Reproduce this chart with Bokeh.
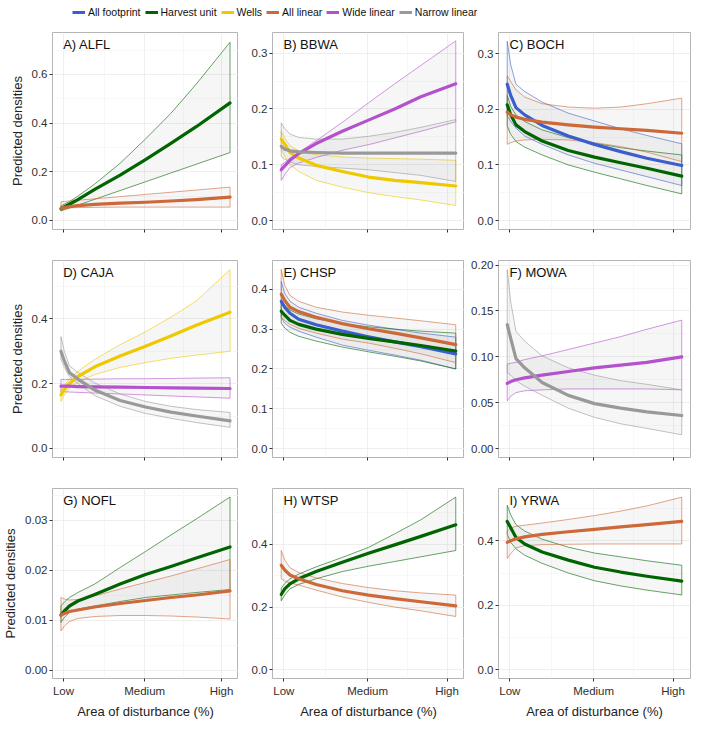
from bokeh.plotting import figure
from bokeh.models import Range1d, FixedTicker, NumeralTickFormatter, Label, Legend, LegendItem
from bokeh.layouts import gridplot, column
from bokeh.embed import file_html
from bokeh.resources import INLINE

FONT = "Liberation Sans"

# ---------------- data ----------------
X_PTS = [0, 2, 5, 10, 20, 35, 50, 65, 80, 100]
X_TICKS = [1.5, 49.5, 95]
X_TICK_LABELS = ["Low", "Medium", "High"]
X_MINOR = [25.5, 72.25]

SERIES_NAMES = ["All footprint", "Harvest unit", "Wells", "All linear", "Wide linear", "Narrow linear"]
SERIES_COLORS = ["#3A5FCD", "#006400", "#EEC900", "#CD6839", "#B452CD", "#999999"]

# A) ALFL
ALFL_harvest_mean = [0.048, 0.0555, 0.0668, 0.0859, 0.1274, 0.1862, 0.25, 0.3167, 0.3852, 0.483]
ALFL_harvest_lo = [0.039, 0.044, 0.051, 0.063, 0.087, 0.123, 0.159, 0.195, 0.231, 0.279]
ALFL_harvest_hi = [0.06, 0.067, 0.078, 0.1, 0.15, 0.235, 0.335, 0.44, 0.56, 0.732]
ALFL_linear_mean = [0.05, 0.053, 0.057, 0.061, 0.066, 0.071, 0.075, 0.08, 0.086, 0.096]
ALFL_linear_lo = [0.05, 0.051, 0.052, 0.053, 0.054, 0.055, 0.055, 0.055, 0.055, 0.055]
ALFL_linear_hi = [0.077, 0.078, 0.08, 0.083, 0.089, 0.098, 0.107, 0.116, 0.125, 0.137]

# B) BBWA
BBWA_wells_mean = [0.146, 0.137, 0.122, 0.112, 0.099, 0.088, 0.078, 0.072, 0.068, 0.062]
BBWA_wells_lo = [0.127, 0.116, 0.1, 0.088, 0.072, 0.06, 0.05, 0.043, 0.037, 0.027]
BBWA_wells_hi = [0.16, 0.148, 0.134, 0.125, 0.118, 0.114, 0.112, 0.111, 0.11, 0.108]
BBWA_wide_mean = [0.091, 0.098, 0.108, 0.12, 0.138, 0.16, 0.18, 0.2, 0.222, 0.245]
BBWA_wide_lo = [0.072, 0.082, 0.095, 0.103, 0.113, 0.126, 0.136, 0.148, 0.16, 0.177]
BBWA_wide_hi = [0.1, 0.104, 0.112, 0.122, 0.143, 0.176, 0.211, 0.245, 0.278, 0.322]
BBWA_narrow_mean = [0.133, 0.128, 0.125, 0.123, 0.122, 0.121, 0.121, 0.121, 0.121, 0.121]
BBWA_narrow_lo = [0.115, 0.11, 0.105, 0.1, 0.097, 0.094, 0.091, 0.086, 0.081, 0.07]
BBWA_narrow_hi = [0.175, 0.165, 0.155, 0.149, 0.146, 0.146, 0.151, 0.158, 0.167, 0.181]

# C) BOCH
BOCH_foot_mean = [0.245, 0.225, 0.203, 0.19, 0.171, 0.152, 0.137, 0.124, 0.112, 0.099]
BOCH_foot_lo = [0.188, 0.178, 0.166, 0.152, 0.137, 0.118, 0.103, 0.091, 0.079, 0.063]
BOCH_foot_hi = [0.322, 0.28, 0.245, 0.232, 0.213, 0.193, 0.179, 0.165, 0.153, 0.138]
BOCH_harvest_mean = [0.208, 0.19, 0.172, 0.16, 0.143, 0.126, 0.114, 0.104, 0.094, 0.08]
BOCH_harvest_lo = [0.17, 0.155, 0.142, 0.132, 0.118, 0.1, 0.087, 0.075, 0.063, 0.048]
BOCH_harvest_hi = [0.225, 0.205, 0.19, 0.178, 0.163, 0.149, 0.139, 0.131, 0.125, 0.118]
BOCH_linear_mean = [0.195, 0.19, 0.186, 0.182, 0.177, 0.172, 0.168, 0.165, 0.162, 0.157]
BOCH_linear_lo = [0.137, 0.14, 0.143, 0.145, 0.146, 0.145, 0.14, 0.133, 0.123, 0.106]
BOCH_linear_hi = [0.26, 0.25, 0.235, 0.222, 0.21, 0.204, 0.202, 0.204, 0.21, 0.22]

# D) CAJA
CAJA_wells_mean = [0.165, 0.182, 0.2, 0.222, 0.252, 0.285, 0.315, 0.347, 0.38, 0.42]
CAJA_wells_lo = [0.145, 0.165, 0.185, 0.205, 0.228, 0.25, 0.265, 0.278, 0.288, 0.3]
CAJA_wells_hi = [0.18, 0.195, 0.215, 0.238, 0.275, 0.32, 0.36, 0.405, 0.455, 0.552]
CAJA_wide_mean = [0.192, 0.192, 0.192, 0.191, 0.19, 0.189, 0.188, 0.187, 0.186, 0.185]
CAJA_wide_lo = [0.175, 0.175, 0.174, 0.173, 0.171, 0.168, 0.165, 0.162, 0.159, 0.155]
CAJA_wide_hi = [0.213, 0.213, 0.213, 0.213, 0.214, 0.215, 0.215, 0.216, 0.217, 0.218]
CAJA_narrow_mean = [0.3, 0.27, 0.234, 0.214, 0.18, 0.148, 0.128, 0.112, 0.1, 0.085]
CAJA_narrow_lo = [0.275, 0.25, 0.222, 0.2, 0.163, 0.13, 0.108, 0.093, 0.08, 0.065]
CAJA_narrow_hi = [0.345, 0.3, 0.255, 0.235, 0.202, 0.168, 0.145, 0.13, 0.12, 0.111]

# E) CHSP
CHSP_foot_mean = [0.37, 0.355, 0.34, 0.325, 0.311, 0.295, 0.281, 0.268, 0.256, 0.238]
CHSP_foot_lo = [0.33, 0.315, 0.305, 0.295, 0.28, 0.26, 0.247, 0.235, 0.222, 0.2]
CHSP_foot_hi = [0.42, 0.39, 0.37, 0.355, 0.34, 0.322, 0.31, 0.3, 0.29, 0.28]
CHSP_harvest_mean = [0.345, 0.335, 0.322, 0.312, 0.3, 0.287, 0.277, 0.268, 0.259, 0.245]
CHSP_harvest_lo = [0.315, 0.303, 0.292, 0.282, 0.27, 0.255, 0.243, 0.232, 0.22, 0.2]
CHSP_harvest_hi = [0.37, 0.36, 0.348, 0.338, 0.326, 0.314, 0.306, 0.3, 0.295, 0.29]
CHSP_linear_mean = [0.388, 0.372, 0.355, 0.344, 0.33, 0.314, 0.301, 0.29, 0.278, 0.261]
CHSP_linear_lo = [0.33, 0.322, 0.312, 0.302, 0.29, 0.275, 0.265, 0.252, 0.238, 0.216]
CHSP_linear_hi = [0.45, 0.41, 0.385, 0.37, 0.355, 0.343, 0.335, 0.328, 0.321, 0.311]

# F) MOWA
MOWA_wide_mean = [0.071, 0.073, 0.075, 0.077, 0.08, 0.084, 0.088, 0.091, 0.094, 0.1]
MOWA_wide_lo = [0.052, 0.057, 0.061, 0.063, 0.064, 0.065, 0.065, 0.065, 0.065, 0.064]
MOWA_wide_hi = [0.092, 0.093, 0.094, 0.097, 0.101, 0.108, 0.115, 0.122, 0.13, 0.14]
MOWA_narrow_mean = [0.135, 0.12, 0.098, 0.088, 0.072, 0.058, 0.049, 0.044, 0.04, 0.036]
MOWA_narrow_lo = [0.083, 0.08, 0.074, 0.068, 0.058, 0.044, 0.034, 0.027, 0.022, 0.015]
MOWA_narrow_hi = [0.195, 0.16, 0.128, 0.117, 0.101, 0.088, 0.08, 0.074, 0.07, 0.064]

# G) NOFL
NOFL_harvest_mean = [0.011, 0.0118, 0.0128, 0.0138, 0.0151, 0.0172, 0.0191, 0.0207, 0.0224, 0.0246]
NOFL_harvest_lo = [0.0095, 0.0105, 0.0115, 0.0122, 0.0128, 0.0137, 0.0145, 0.015, 0.0155, 0.0161]
NOFL_harvest_hi = [0.0128, 0.0136, 0.0145, 0.0155, 0.0172, 0.0205, 0.0237, 0.027, 0.0302, 0.0346]
NOFL_linear_mean = [0.011, 0.0113, 0.0117, 0.012, 0.0126, 0.0133, 0.0139, 0.0145, 0.015, 0.0158]
NOFL_linear_lo = [0.0078, 0.0088, 0.0097, 0.0103, 0.0107, 0.0109, 0.0109, 0.0108, 0.0106, 0.0102]
NOFL_linear_hi = [0.0145, 0.0142, 0.014, 0.0141, 0.0148, 0.0162, 0.0175, 0.0188, 0.0202, 0.0221]

# H) WTSP
WTSP_harvest_mean = [0.24, 0.258, 0.274, 0.29, 0.313, 0.343, 0.371, 0.398, 0.425, 0.462]
WTSP_harvest_lo = [0.22, 0.238, 0.258, 0.272, 0.29, 0.313, 0.33, 0.345, 0.36, 0.38]
WTSP_harvest_hi = [0.26, 0.275, 0.29, 0.305, 0.328, 0.358, 0.39, 0.433, 0.478, 0.55]
WTSP_linear_mean = [0.333, 0.318, 0.302, 0.29, 0.272, 0.252, 0.238, 0.227, 0.217, 0.204]
WTSP_linear_lo = [0.29, 0.283, 0.277, 0.27, 0.254, 0.232, 0.215, 0.2, 0.188, 0.17]
WTSP_linear_hi = [0.38, 0.35, 0.325, 0.31, 0.293, 0.275, 0.262, 0.252, 0.245, 0.238]

# I) YRWA
YRWA_harvest_mean = [0.46, 0.44, 0.41, 0.39, 0.365, 0.34, 0.318, 0.303, 0.29, 0.275]
YRWA_harvest_lo = [0.42, 0.395, 0.375, 0.355, 0.33, 0.3, 0.276, 0.26, 0.247, 0.232]
YRWA_harvest_hi = [0.51, 0.48, 0.45, 0.43, 0.405, 0.38, 0.362, 0.35, 0.338, 0.324]
YRWA_linear_mean = [0.395, 0.4, 0.406, 0.412, 0.42, 0.428, 0.435, 0.443, 0.45, 0.46]
YRWA_linear_lo = [0.345, 0.36, 0.378, 0.385, 0.388, 0.389, 0.39, 0.39, 0.39, 0.39]
YRWA_linear_hi = [0.43, 0.44, 0.445, 0.448, 0.455, 0.466, 0.478, 0.492, 0.508, 0.535]

PANEL_TITLES = ["A) ALFL", "B) BBWA", "C) BOCH", "D) CAJA", "E) CHSP", "F) MOWA",
                "G) NOFL", "H) WTSP", "I) YRWA"]
Y_LIMITS = [(-0.037, 0.772), (-0.016, 0.337), (-0.016, 0.338),
            (-0.028, 0.58), (-0.0225, 0.4725), (-0.00975, 0.205),
            (-0.0017, 0.0363), (-0.0275, 0.5775), (-0.027, 0.562)]
Y_TICKS = [[0, 0.2, 0.4, 0.6], [0, 0.1, 0.2, 0.3], [0, 0.1, 0.2, 0.3],
           [0, 0.2, 0.4], [0, 0.1, 0.2, 0.3, 0.4], [0, 0.05, 0.10, 0.15, 0.20],
           [0, 0.01, 0.02, 0.03], [0, 0.2, 0.4], [0, 0.2, 0.4]]
Y_MINOR = [[0.1, 0.3, 0.5, 0.7], [0.05, 0.15, 0.25], [0.05, 0.15, 0.25],
           [0.1, 0.3, 0.5], [0.05, 0.15, 0.25, 0.35, 0.45], [0.025, 0.075, 0.125, 0.175],
           [0.005, 0.015, 0.025, 0.035], [0.1, 0.3, 0.5], [0.1, 0.3, 0.5]]
Y_FORMATS = ["0.0", "0.0", "0.0", "0.0", "0.0", "0.00", "0.00", "0.0", "0.0"]

PANEL_SERIES = [
    [("Harvest unit", ALFL_harvest_mean, ALFL_harvest_lo, ALFL_harvest_hi),
     ("All linear", ALFL_linear_mean, ALFL_linear_lo, ALFL_linear_hi)],
    [("Wells", BBWA_wells_mean, BBWA_wells_lo, BBWA_wells_hi),
     ("Wide linear", BBWA_wide_mean, BBWA_wide_lo, BBWA_wide_hi),
     ("Narrow linear", BBWA_narrow_mean, BBWA_narrow_lo, BBWA_narrow_hi)],
    [("All footprint", BOCH_foot_mean, BOCH_foot_lo, BOCH_foot_hi),
     ("Harvest unit", BOCH_harvest_mean, BOCH_harvest_lo, BOCH_harvest_hi),
     ("All linear", BOCH_linear_mean, BOCH_linear_lo, BOCH_linear_hi)],
    [("Wells", CAJA_wells_mean, CAJA_wells_lo, CAJA_wells_hi),
     ("Wide linear", CAJA_wide_mean, CAJA_wide_lo, CAJA_wide_hi),
     ("Narrow linear", CAJA_narrow_mean, CAJA_narrow_lo, CAJA_narrow_hi)],
    [("All footprint", CHSP_foot_mean, CHSP_foot_lo, CHSP_foot_hi),
     ("Harvest unit", CHSP_harvest_mean, CHSP_harvest_lo, CHSP_harvest_hi),
     ("All linear", CHSP_linear_mean, CHSP_linear_lo, CHSP_linear_hi)],
    [("Wide linear", MOWA_wide_mean, MOWA_wide_lo, MOWA_wide_hi),
     ("Narrow linear", MOWA_narrow_mean, MOWA_narrow_lo, MOWA_narrow_hi)],
    [("Harvest unit", NOFL_harvest_mean, NOFL_harvest_lo, NOFL_harvest_hi),
     ("All linear", NOFL_linear_mean, NOFL_linear_lo, NOFL_linear_hi)],
    [("Harvest unit", WTSP_harvest_mean, WTSP_harvest_lo, WTSP_harvest_hi),
     ("All linear", WTSP_linear_mean, WTSP_linear_lo, WTSP_linear_hi)],
    [("Harvest unit", YRWA_harvest_mean, YRWA_harvest_lo, YRWA_harvest_hi),
     ("All linear", YRWA_linear_mean, YRWA_linear_lo, YRWA_linear_hi)],
]

# ---------------- layout / style ----------------
COLOR = dict(zip(SERIES_NAMES, SERIES_COLORS))
X_RANGE = (-5, 105)
FRAME_W = 192
FRAME_H = 197
TOP = 12
LEFT = [46, 34, 34]
RIGHT = [0, 0, 3]
BOTTOM = [19, 19, 36]
TICK_COLOR = "#333333"
TEXT_COLOR = "#303030"


def make_panel(i):
    row, col = divmod(i, 3)
    w = LEFT[col] + FRAME_W + RIGHT[col]
    h = TOP + FRAME_H + BOTTOM[row]
    ylo, yhi = Y_LIMITS[i]
    p = figure(width=w, height=h, x_range=Range1d(*X_RANGE), y_range=Range1d(ylo, yhi),
               output_backend="svg", toolbar_location=None,
               min_border_left=LEFT[col], min_border_right=RIGHT[col],
               min_border_top=TOP, min_border_bottom=BOTTOM[row])
    p.background_fill_color = "white"
    p.border_fill_color = "white"
    p.outline_line_color = "#b5b5b5"
    p.outline_line_width = 1

    # axes
    p.xaxis.ticker = FixedTicker(ticks=X_TICKS, minor_ticks=X_MINOR)
    p.xaxis.major_label_overrides = {t: l for t, l in zip(X_TICKS, X_TICK_LABELS)}
    p.yaxis.ticker = FixedTicker(ticks=Y_TICKS[i], minor_ticks=Y_MINOR[i])
    p.yaxis.formatter = NumeralTickFormatter(format=Y_FORMATS[i])
    for ax in (p.xaxis[0], p.yaxis[0]):
        ax.axis_line_color = None
        ax.major_tick_line_color = TICK_COLOR
        ax.major_tick_out = 3
        ax.major_tick_in = 0
        ax.minor_tick_out = 0
        ax.minor_tick_in = 0
        ax.major_label_text_font = FONT
        ax.major_label_text_font_size = "11.5px"
        ax.major_label_text_color = TEXT_COLOR
        ax.major_label_standoff = 2
        ax.axis_label_text_font = FONT
        ax.axis_label_text_font_size = "13px"
        ax.axis_label_text_font_style = "normal"
        ax.axis_label_text_color = "#222222"
        ax.axis_label_standoff = 4
    if row < 2:
        # tick marks only, as in the reference (labels not drawn)
        p.xaxis.major_label_text_color = None
        p.xaxis.major_label_standoff = 0
    else:
        p.xaxis.axis_label = "Area of disturbance (%)"
        p.xaxis.major_label_standoff = 3
    if col == 0:
        p.yaxis.axis_label = "Predicted densities"

    # grid
    for g in (p.xgrid[0], p.ygrid[0]):
        g.grid_line_color = "#ebebeb"
        g.grid_line_width = 0.8
        g.minor_grid_line_color = "#f4f4f4"
        g.minor_grid_line_width = 0.6

    series = PANEL_SERIES[i]
    # ribbons
    for name, mean, lo, hi in series:
        xs = list(X_PTS) + list(X_PTS[::-1])
        ys = list(lo) + list(hi[::-1])
        p.patch(xs, ys, fill_color="#808080", fill_alpha=0.07,
                line_color=COLOR[name], line_width=0.8, line_alpha=0.75)
    # mean lines
    for name, mean, lo, hi in series:
        p.line(X_PTS, mean, line_color=COLOR[name], line_width=3.2,
               line_join="round", line_cap="round")

    # panel label (positioned in pixels from the frame's top-left)
    xpx = (X_RANGE[1] - X_RANGE[0]) / FRAME_W
    ypx = (yhi - ylo) / FRAME_H
    p.add_layout(Label(x=X_RANGE[0] + 11 * xpx, y=yhi - 12 * ypx, text=PANEL_TITLES[i],
                       text_font=FONT, text_font_size="13px", text_color="#111111",
                       text_baseline="middle", text_align="left"))
    return p


panels = [make_panel(i) for i in range(9)]
grid = gridplot([panels[0:3], panels[3:6], panels[6:9]], toolbar_location=None)

TOTAL_W = sum(LEFT) + 3 * FRAME_W + sum(RIGHT)
lf = figure(width=TOTAL_W, height=20, x_range=Range1d(0, 1), y_range=Range1d(0, 1),
            output_backend="svg", toolbar_location=None, min_border=0)
lf.axis.visible = False
lf.grid.visible = False
lf.outline_line_color = None
items = []
for name in SERIES_NAMES:
    # legend-only renderer, placed outside the visible range
    r = lf.line(x=[-10, -9], y=[-10, -10], line_color=COLOR[name], line_width=3)
    items.append(LegendItem(label=name, renderers=[r]))
legend = Legend(items=items, orientation="horizontal", location=(72, 1),
                label_text_font=FONT, label_text_font_size="10.5px", label_text_color="#111111",
                glyph_width=13, glyph_height=14, label_height=14, label_standoff=3,
                spacing=4, padding=2, margin=0, border_line_color=None,
                background_fill_alpha=0)
lf.add_layout(legend)

layout = column(lf, grid)
open("out.html", "w").write(file_html(layout, INLINE))
